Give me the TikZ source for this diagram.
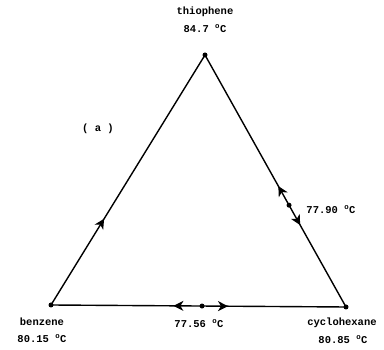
\documentclass[tikz,border=0pt]{standalone}
\usepackage{fontspec}
\setmonofont{Liberation Mono}
\usetikzlibrary{arrows.meta,calc,decorations.markings}

\tikzset{
  lab/.style={font=\ttfamily\bfseries\fontsize{10.5}{12}\selectfont, inner sep=1pt},
  side/.style={line width=1.4pt},
  tipat/.style={postaction={decorate,decoration={markings,
      mark=at position #1 with {\arrow{Stealth[length=10pt,width=10pt,inset=3pt]}}}}},
  tipback/.style={postaction={decorate,decoration={markings,
      mark=at position #1 with {\arrowreversed{Stealth[length=10pt,width=10pt,inset=3pt]}}}}},
}
\newcommand{\degc}{\textsuperscript{o}C}

\begin{document}
\begin{tikzpicture}[x=1pt,y=-1pt]
    \useasboundingbox (0,0) rectangle (384,350);

    % Pure components
    \coordinate (thio) at (205,55);
    \coordinate (benz) at (51,305);
    \coordinate (cyhx) at (346,307);

    % Azeotropes
    \coordinate (azR) at ($(thio)!0.596!(cyhx)$);
    \coordinate (azB) at ($(benz)!0.512!(cyhx)$);

    % Sides of the triangle
    \draw[side, tipat=0.345] (benz) -- (thio);
    \draw[side, tipback=0.52, tipat=0.675] (thio) -- (cyhx);
    \draw[side, tipback=0.415, tipat=0.60] (benz) -- (cyhx);

    % Points
    \foreach \p in {thio,benz,cyhx,azR,azB}
        \fill (\p) circle (2.5pt);

    % Labels
    \node[lab] (thioname) at (205,12) {thiophene};
    \node[lab] (thiot) at (205,29) {84.7 \degc};
    \node[lab] (benzname) at (42,322) {benzene};
    \node[lab] (benzt) at (42,339) {80.15 \degc};
    \node[lab] (cyhxname) at (342,323) {cyclohexane};
    \node[lab] (cyhxt) at (343,340) {80.85 \degc};
    \node[lab] (azRt) at (331,210) {77.90 \degc};
    \node[lab] (azBt) at (199,324) {77.56 \degc};
    \node[lab] (tag) at (98,129) {( a )};
\end{tikzpicture}
\end{document}
